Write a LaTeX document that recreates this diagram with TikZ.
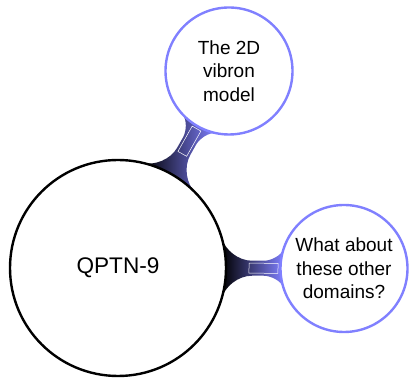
\documentclass[tikz,border=0pt]{standalone}
\usepackage{fontspec}
\setmainfont{Liberation Sans}
\definecolor{childblue}{RGB}{128,128,255}
\pgfdeclarelayer{background}
\pgfsetlayers{background,main}
\newcommand\qbarpath{(103.7,30) .. controls (107,18.5) and (120,7.5) .. (134,7.5) -- (146,7.5) .. controls (152,7.5) and (163.1,12) .. (165.6,19.6) -- (165.6,-19.6) .. controls (163.1,-12) and (152,-7.5) .. (146,-7.5) -- (134,-7.5) .. controls (120,-7.5) and (107,-18.5) .. (103.7,-30) -- cycle}
\begin{document}
\begin{tikzpicture}[x=1pt,y=1pt,
  rootc/.style={circle, draw=black, line width=2.4pt, fill=white, minimum size=216pt, inner sep=0pt, font=\fontsize{22.6}{27}\selectfont},
  childc/.style={circle, draw=childblue, line width=2.4pt, fill=white, minimum size=127pt, inner sep=0pt, align=center, font=\fontsize{19}{23.3}\selectfont},
  barshade/.style={left color=black, right color=childblue},
  barmark/.style={draw=white, line width=0.5pt}]
\useasboundingbox (0,0) rectangle (409,379);
\node[rootc] (root) at (118,111) {QPTN-9};
\node[childc] (c1) at (229,308) {The 2D\\vibron\\model};
\node[childc] (c2) at (344,110.5) {What about\\these other\\domains?};
\begin{pgfonlayer}{background}
\begin{scope}[shift={(root.center)}, rotate=60.6]
  \shade[barshade] \qbarpath;
  \draw[barmark] (131,-5) rectangle (160,5);
\end{scope}
\begin{scope}[shift={(root.center)}, rotate=-0.1]
  \shade[barshade] \qbarpath;
  \draw[barmark] (131,-5) rectangle (160,5);
\end{scope}
\end{pgfonlayer}
\end{tikzpicture}
\end{document}
